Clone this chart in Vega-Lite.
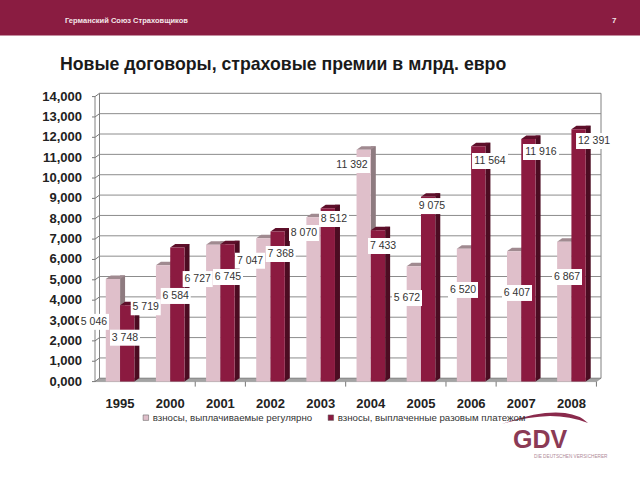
{"$schema":"https://vega.github.io/schema/vega-lite/v6.json","width":501.5,"height":285,"autosize":"none","padding":{"left":95,"top":96.6,"right":43.5,"bottom":98.4},"background":"white","config":{"view":{"stroke":null},"font":"Liberation Sans"},
"data":{"values":[
{"year":"1995","kind":"взносы, выплачиваемые регулярно","value":5.046,"label":"5 046"},
{"year":"2000","kind":"взносы, выплачиваемые регулярно","value":5.719,"label":"5 719"},
{"year":"2001","kind":"взносы, выплачиваемые регулярно","value":6.727,"label":"6 727"},
{"year":"2002","kind":"взносы, выплачиваемые регулярно","value":7.047,"label":"7 047"},
{"year":"2003","kind":"взносы, выплачиваемые регулярно","value":8.07,"label":"8 070"},
{"year":"2004","kind":"взносы, выплачиваемые регулярно","value":11.392,"label":"11 392"},
{"year":"2005","kind":"взносы, выплачиваемые регулярно","value":5.672,"label":"5 672"},
{"year":"2006","kind":"взносы, выплачиваемые регулярно","value":6.52,"label":"6 520"},
{"year":"2007","kind":"взносы, выплачиваемые регулярно","value":6.407,"label":"6 407"},
{"year":"2008","kind":"взносы, выплачиваемые регулярно","value":6.867,"label":"6 867"},
{"year":"1995","kind":"взносы, выплаченные разовым платежом","value":3.748,"label":"3 748"},
{"year":"2000","kind":"взносы, выплаченные разовым платежом","value":6.584,"label":"6 584"},
{"year":"2001","kind":"взносы, выплаченные разовым платежом","value":6.745,"label":"6 745"},
{"year":"2002","kind":"взносы, выплаченные разовым платежом","value":7.368,"label":"7 368"},
{"year":"2003","kind":"взносы, выплаченные разовым платежом","value":8.512,"label":"8 512"},
{"year":"2004","kind":"взносы, выплаченные разовым платежом","value":7.433,"label":"7 433"},
{"year":"2005","kind":"взносы, выплаченные разовым платежом","value":9.075,"label":"9 075"},
{"year":"2006","kind":"взносы, выплаченные разовым платежом","value":11.564,"label":"11 564"},
{"year":"2007","kind":"взносы, выплаченные разовым платежом","value":11.916,"label":"11 916"},
{"year":"2008","kind":"взносы, выплаченные разовым платежом","value":12.391,"label":"12 391"}
]},
"layer":[
{"data":{"values":[{}]},"mark":{"type":"rect","fill":"#8a1c41"},"encoding":{"x":{"value":-95},"x2":{"value":545},"y":{"value":-96.6},"y2":{"value":-61}}},
{"data":{"values":[{}]},"mark":{"type":"text","align":"left","baseline":"alphabetic","fontSize":7.5,"fontWeight":"bold","color":"#f4e6ea"},"encoding":{"x":{"value":-30},"y":{"value":-74},"text":{"value":"Германский Союз Страховщиков"}}},
{"data":{"values":[{}]},"mark":{"type":"text","align":"left","baseline":"alphabetic","fontSize":8,"fontWeight":"bold","color":"#f4e6ea"},"encoding":{"x":{"value":517},"y":{"value":-74},"text":{"value":"7"}}},
{"data":{"values":[{}]},"mark":{"type":"text","align":"left","baseline":"alphabetic","fontSize":17.7,"fontWeight":"bold","color":"#1a1a1a"},"encoding":{"x":{"value":-35},"y":{"value":-26.6},"text":{"value":"Новые договоры, страховые премии в млрд. евро"}}},
{"data":{"values":[{}]},"mark":{"type":"rect","fill":"white","stroke":"#808080","strokeWidth":1,"yOffset":-3.3,"y2Offset":-3.3},"encoding":{"x":{"value":4.5},"x2":{"value":506},"y":{"datum":14,"type":"quantitative","scale":{"domain":[0,14],"nice":false},"axis":{"title":null,"domain":false,"ticks":false,"grid":false,"labels":false}},"y2":{"datum":0}}},
{"data":{"values":[{"tick":1},{"tick":2},{"tick":3},{"tick":4},{"tick":5},{"tick":6},{"tick":7},{"tick":8},{"tick":9},{"tick":10},{"tick":11},{"tick":12},{"tick":13}]},"mark":{"type":"rule","stroke":"#8c8c8c","strokeWidth":1,"yOffset":-3.3},"encoding":{"x":{"value":4.5},"x2":{"value":506},"y":{"field":"tick","type":"quantitative"}}},
{"data":{"values":[{"tick":0,"name":"0,000"},{"tick":1,"name":"1,000"},{"tick":2,"name":"2,000"},{"tick":3,"name":"3,000"},{"tick":4,"name":"4,000"},{"tick":5,"name":"5,000"},{"tick":6,"name":"6,000"},{"tick":7,"name":"7,000"},{"tick":8,"name":"8,000"},{"tick":9,"name":"9,000"},{"tick":10,"name":"10,000"},{"tick":11,"name":"11,000"},{"tick":12,"name":"12,000"},{"tick":13,"name":"13,000"},{"tick":14,"name":"14,000"}]},"layer":[{"mark":{"type":"point","shape":"M-3 0 L0 0 L4.5 -3.3","size":4,"filled":false,"stroke":"#777777","strokeWidth":1,"opacity":1},"encoding":{"x":{"value":0},"y":{"field":"tick","type":"quantitative"}}},{"mark":{"type":"text","align":"right","baseline":"middle","fontSize":13,"fontWeight":"bold","color":"#222222"},"encoding":{"x":{"value":-13},"y":{"field":"tick","type":"quantitative"},"text":{"field":"name"}}}]},
{"data":{"values":[{}]},"mark":{"type":"rule","stroke":"#808080","strokeWidth":1},"encoding":{"x":{"value":0},"y":{"datum":14,"type":"quantitative"},"y2":{"datum":0}}},
{"data":{"values":[{}]},"mark":{"type":"point","shape":"M0 0 L4.5 -3.3 L506 -3.3 L501.5 0 Z","size":4,"filled":true,"fill":"#a3a3a3","stroke":"#777777","strokeWidth":0.5,"opacity":1},"encoding":{"x":{"value":0},"y":{"datum":0,"type":"quantitative"}}},
{"transform":[{"filter":"datum.kind=='взносы, выплачиваемые регулярно'"}],"mark":{"type":"bar","size":5,"fill":"#8e7b80","xOffset":2.5,"yOffset":-3.5,"y2Offset":-3.5},"encoding":{
"x":{"field":"year","type":"nominal","scale":{"domain":["1995","2000","2001","2002","2003","2004","2005","2006","2007","2008"],"paddingInner":0.43,"paddingOuter":0.215},"axis":{"title":null,"domain":false,"ticks":false,"bandPosition":0.5,"labelAngle":0,"labelPadding":15.5,"labelFontSize":13,"labelFontWeight":"bold","labelColor":"#222222","labelFont":"Liberation Sans"}},
"y":{"field":"value","type":"quantitative"}}},
{"transform":[{"filter":"indexof(['2000','2001','2003','2005','2006','2008'],datum.year)>=0 && datum.kind=='взносы, выплачиваемые регулярно'"}],"mark":{"type":"point","shape":"M25 0 L25 5","size":4,"filled":false,"stroke":"#777777","strokeWidth":1,"opacity":1},"encoding":{"x":{"field":"year","type":"nominal"},"y":{"datum":0,"type":"quantitative"}}},
{"transform":[{"filter":"datum.kind=='взносы, выплаченные разовым платежом'"}],"mark":{"type":"bar","size":5,"fill":"#4c0c22","xOffset":16.8,"yOffset":-3.5,"y2Offset":-3.5},"encoding":{"x":{"field":"year","type":"nominal"},"y":{"field":"value","type":"quantitative"}}},
{"transform":[{"filter":"datum.kind=='взносы, выплаченные разовым платежом'"}],"mark":{"type":"point","shape":"M14.3 0 L19.3 -3.5 L14.3 -3.5 Z","size":4,"filled":true,"fill":"#4c0c22","strokeWidth":0,"opacity":1},"encoding":{"x":{"field":"year","type":"nominal"},"y":{"datum":0,"type":"quantitative"}}},
{"transform":[{"filter":"datum.kind=='взносы, выплачиваемые регулярно'"}],"mark":{"type":"point","shape":"M-14.3 0 L-9.3 -3.5 L5 -3.5 L0 0 Z","size":4,"filled":true,"fill":"#a08a90","strokeWidth":0,"opacity":1},"encoding":{"x":{"field":"year","type":"nominal"},"y":{"field":"value","type":"quantitative"}}},
{"transform":[{"filter":"datum.kind=='взносы, выплаченные разовым платежом'"}],"mark":{"type":"point","shape":"M0 0 L5 -3.5 L19.3 -3.5 L14.3 0 Z","size":4,"filled":true,"fill":"#5e0f2a","strokeWidth":0,"opacity":1},"encoding":{"x":{"field":"year","type":"nominal"},"y":{"field":"value","type":"quantitative"}}},
{"mark":{"type":"bar"},"encoding":{"x":{"field":"year","type":"nominal"},"xOffset":{"field":"kind","type":"nominal","scale":{"domain":["взносы, выплачиваемые регулярно","взносы, выплаченные разовым платежом"]}},"y":{"field":"value","type":"quantitative"},
"color":{"field":"kind","type":"nominal","scale":{"domain":["взносы, выплачиваемые регулярно","взносы, выплаченные разовым платежом"],"range":["#dfbfca","#8b1a40"]},"legend":{"orient":"none","legendX":46,"legendY":316,"direction":"horizontal","title":null,"symbolType":"square","symbolSize":30,"symbolStrokeColor":"#555555","symbolStrokeWidth":0.5,"labelFont":"Liberation Sans","labelFontSize":9.7,"labelColor":"#333333","columnPadding":13,"labelOffset":2,"labelLimit":300}}}},
{"transform":[{"filter":"datum.label=='5 046'"}],"layer":[{"mark":{"type":"point","shape":"M-15 -8 H15 V8 H-15 Z","size":4,"filled":true,"fill":"white","strokeWidth":0,"opacity":1,"xOffset":-26.1,"yOffset":43}},{"mark":{"type":"text","fontSize":10.5,"color":"#333333","xOffset":-26.1,"yOffset":43},"encoding":{"text":{"field":"label"}}}],"encoding":{"x":{"field":"year","type":"nominal"},"y":{"field":"value","type":"quantitative"}}},
{"transform":[{"filter":"datum.label=='3 748'"}],"layer":[{"mark":{"type":"point","shape":"M-15 -8 H15 V8 H-15 Z","size":4,"filled":true,"fill":"white","strokeWidth":0,"opacity":1,"xOffset":4.9,"yOffset":32.4}},{"mark":{"type":"text","fontSize":10.5,"color":"#333333","xOffset":4.9,"yOffset":32.4},"encoding":{"text":{"field":"label"}}}],"encoding":{"x":{"field":"year","type":"nominal"},"y":{"field":"value","type":"quantitative"}}},
{"transform":[{"filter":"datum.label=='5 719'"}],"layer":[{"mark":{"type":"point","shape":"M-15 -8 H15 V8 H-15 Z","size":4,"filled":true,"fill":"white","strokeWidth":0,"opacity":1,"xOffset":-24.5,"yOffset":42.1}},{"mark":{"type":"text","fontSize":10.5,"color":"#333333","xOffset":-24.5,"yOffset":42.1},"encoding":{"text":{"field":"label"}}}],"encoding":{"x":{"field":"year","type":"nominal"},"y":{"field":"value","type":"quantitative"}}},
{"transform":[{"filter":"datum.label=='6 584'"}],"layer":[{"mark":{"type":"point","shape":"M-15 -8 H15 V8 H-15 Z","size":4,"filled":true,"fill":"white","strokeWidth":0,"opacity":1,"xOffset":5.5,"yOffset":48.4}},{"mark":{"type":"text","fontSize":10.5,"color":"#333333","xOffset":5.5,"yOffset":48.4},"encoding":{"text":{"field":"label"}}}],"encoding":{"x":{"field":"year","type":"nominal"},"y":{"field":"value","type":"quantitative"}}},
{"transform":[{"filter":"datum.label=='6 727'"}],"layer":[{"mark":{"type":"point","shape":"M-15 -8 H15 V8 H-15 Z","size":4,"filled":true,"fill":"white","strokeWidth":0,"opacity":1,"xOffset":-22.7,"yOffset":34.4}},{"mark":{"type":"text","fontSize":10.5,"color":"#333333","xOffset":-22.7,"yOffset":34.4},"encoding":{"text":{"field":"label"}}}],"encoding":{"x":{"field":"year","type":"nominal"},"y":{"field":"value","type":"quantitative"}}},
{"transform":[{"filter":"datum.label=='6 745'"}],"layer":[{"mark":{"type":"point","shape":"M-15 -8 H15 V8 H-15 Z","size":4,"filled":true,"fill":"white","strokeWidth":0,"opacity":1,"xOffset":7.6,"yOffset":32.7}},{"mark":{"type":"text","fontSize":10.5,"color":"#333333","xOffset":7.6,"yOffset":32.7},"encoding":{"text":{"field":"label"}}}],"encoding":{"x":{"field":"year","type":"nominal"},"y":{"field":"value","type":"quantitative"}}},
{"transform":[{"filter":"datum.label=='7 047'"}],"layer":[{"mark":{"type":"point","shape":"M-15 -8 H15 V8 H-15 Z","size":4,"filled":true,"fill":"white","strokeWidth":0,"opacity":1,"xOffset":-20.5,"yOffset":22.6}},{"mark":{"type":"text","fontSize":10.5,"color":"#333333","xOffset":-20.5,"yOffset":22.6},"encoding":{"text":{"field":"label"}}}],"encoding":{"x":{"field":"year","type":"nominal"},"y":{"field":"value","type":"quantitative"}}},
{"transform":[{"filter":"datum.label=='7 368'"}],"layer":[{"mark":{"type":"point","shape":"M-15 -8 H15 V8 H-15 Z","size":4,"filled":true,"fill":"white","strokeWidth":0,"opacity":1,"xOffset":10.2,"yOffset":22.4}},{"mark":{"type":"text","fontSize":10.5,"color":"#333333","xOffset":10.2,"yOffset":22.4},"encoding":{"text":{"field":"label"}}}],"encoding":{"x":{"field":"year","type":"nominal"},"y":{"field":"value","type":"quantitative"}}},
{"transform":[{"filter":"datum.label=='8 070'"}],"layer":[{"mark":{"type":"point","shape":"M-15 -8 H15 V8 H-15 Z","size":4,"filled":true,"fill":"white","strokeWidth":0,"opacity":1,"xOffset":-16.7,"yOffset":15.7}},{"mark":{"type":"text","fontSize":10.5,"color":"#333333","xOffset":-16.7,"yOffset":15.7},"encoding":{"text":{"field":"label"}}}],"encoding":{"x":{"field":"year","type":"nominal"},"y":{"field":"value","type":"quantitative"}}},
{"transform":[{"filter":"datum.label=='8 512'"}],"layer":[{"mark":{"type":"point","shape":"M-15 -8 H15 V8 H-15 Z","size":4,"filled":true,"fill":"white","strokeWidth":0,"opacity":1,"xOffset":13.3,"yOffset":10.7}},{"mark":{"type":"text","fontSize":10.5,"color":"#333333","xOffset":13.3,"yOffset":10.7},"encoding":{"text":{"field":"label"}}}],"encoding":{"x":{"field":"year","type":"nominal"},"y":{"field":"value","type":"quantitative"}}},
{"transform":[{"filter":"datum.label=='11 392'"}],"layer":[{"mark":{"type":"point","shape":"M-18 -8 H18 V8 H-18 Z","size":4,"filled":true,"fill":"white","strokeWidth":0,"opacity":1,"xOffset":-18.8,"yOffset":15.3}},{"mark":{"type":"text","fontSize":10.5,"color":"#333333","xOffset":-18.8,"yOffset":15.3},"encoding":{"text":{"field":"label"}}}],"encoding":{"x":{"field":"year","type":"nominal"},"y":{"field":"value","type":"quantitative"}}},
{"transform":[{"filter":"datum.label=='7 433'"}],"layer":[{"mark":{"type":"point","shape":"M-15 -8 H15 V8 H-15 Z","size":4,"filled":true,"fill":"white","strokeWidth":0,"opacity":1,"xOffset":12.2,"yOffset":15.7}},{"mark":{"type":"text","fontSize":10.5,"color":"#333333","xOffset":12.2,"yOffset":15.7},"encoding":{"text":{"field":"label"}}}],"encoding":{"x":{"field":"year","type":"nominal"},"y":{"field":"value","type":"quantitative"}}},
{"transform":[{"filter":"datum.label=='5 672'"}],"layer":[{"mark":{"type":"point","shape":"M-15 -8 H15 V8 H-15 Z","size":4,"filled":true,"fill":"white","strokeWidth":0,"opacity":1,"xOffset":-14,"yOffset":31.9}},{"mark":{"type":"text","fontSize":10.5,"color":"#333333","xOffset":-14,"yOffset":31.9},"encoding":{"text":{"field":"label"}}}],"encoding":{"x":{"field":"year","type":"nominal"},"y":{"field":"value","type":"quantitative"}}},
{"transform":[{"filter":"datum.label=='9 075'"}],"layer":[{"mark":{"type":"point","shape":"M-15 -8 H15 V8 H-15 Z","size":4,"filled":true,"fill":"white","strokeWidth":0,"opacity":1,"xOffset":11,"yOffset":9.2}},{"mark":{"type":"text","fontSize":10.5,"color":"#333333","xOffset":11,"yOffset":9.2},"encoding":{"text":{"field":"label"}}}],"encoding":{"x":{"field":"year","type":"nominal"},"y":{"field":"value","type":"quantitative"}}},
{"transform":[{"filter":"datum.label=='6 520'"}],"layer":[{"mark":{"type":"point","shape":"M-15 -8 H15 V8 H-15 Z","size":4,"filled":true,"fill":"white","strokeWidth":0,"opacity":1,"xOffset":-8.1,"yOffset":41.1}},{"mark":{"type":"text","fontSize":10.5,"color":"#333333","xOffset":-8.1,"yOffset":41.1},"encoding":{"text":{"field":"label"}}}],"encoding":{"x":{"field":"year","type":"nominal"},"y":{"field":"value","type":"quantitative"}}},
{"transform":[{"filter":"datum.label=='11 564'"}],"layer":[{"mark":{"type":"point","shape":"M-18 -8 H18 V8 H-18 Z","size":4,"filled":true,"fill":"white","strokeWidth":0,"opacity":1,"xOffset":18.9,"yOffset":14.8}},{"mark":{"type":"text","fontSize":10.5,"color":"#333333","xOffset":18.9,"yOffset":14.8},"encoding":{"text":{"field":"label"}}}],"encoding":{"x":{"field":"year","type":"nominal"},"y":{"field":"value","type":"quantitative"}}},
{"transform":[{"filter":"datum.label=='6 407'"}],"layer":[{"mark":{"type":"point","shape":"M-15 -8 H15 V8 H-15 Z","size":4,"filled":true,"fill":"white","strokeWidth":0,"opacity":1,"xOffset":-4.3,"yOffset":41.8}},{"mark":{"type":"text","fontSize":10.5,"color":"#333333","xOffset":-4.3,"yOffset":41.8},"encoding":{"text":{"field":"label"}}}],"encoding":{"x":{"field":"year","type":"nominal"},"y":{"field":"value","type":"quantitative"}}},
{"transform":[{"filter":"datum.label=='11 916'"}],"layer":[{"mark":{"type":"point","shape":"M-18 -8 H18 V8 H-18 Z","size":4,"filled":true,"fill":"white","strokeWidth":0,"opacity":1,"xOffset":19.7,"yOffset":13}},{"mark":{"type":"text","fontSize":10.5,"color":"#333333","xOffset":19.7,"yOffset":13},"encoding":{"text":{"field":"label"}}}],"encoding":{"x":{"field":"year","type":"nominal"},"y":{"field":"value","type":"quantitative"}}},
{"transform":[{"filter":"datum.label=='6 867'"}],"layer":[{"mark":{"type":"point","shape":"M-15 -8 H15 V8 H-15 Z","size":4,"filled":true,"fill":"white","strokeWidth":0,"opacity":1,"xOffset":-4.4,"yOffset":35.2}},{"mark":{"type":"text","fontSize":10.5,"color":"#333333","xOffset":-4.4,"yOffset":35.2},"encoding":{"text":{"field":"label"}}}],"encoding":{"x":{"field":"year","type":"nominal"},"y":{"field":"value","type":"quantitative"}}},
{"transform":[{"filter":"datum.label=='12 391'"}],"layer":[{"mark":{"type":"point","shape":"M-18 -8 H18 V8 H-18 Z","size":4,"filled":true,"fill":"white","strokeWidth":0,"opacity":1,"xOffset":22.6,"yOffset":11.7}},{"mark":{"type":"text","fontSize":10.5,"color":"#333333","xOffset":22.6,"yOffset":11.7},"encoding":{"text":{"field":"label"}}}],"encoding":{"x":{"field":"year","type":"nominal"},"y":{"field":"value","type":"quantitative"}}},
{"data":{"values":[{}]},"mark":{"type":"point","shape":"M-43 4 Q-5 -10 20 -7 Q35 -5 43 3 Q25 -4 5 -4 Q-20 -3 -43 4 Z","size":4,"filled":true,"fill":"#8a2a4c","strokeWidth":0,"opacity":1},"encoding":{"x":{"value":450},"y":{"value":323.4}}},
{"data":{"values":[{}]},"mark":{"type":"text","align":"left","baseline":"alphabetic","fontSize":25,"fontWeight":"bold","color":"#8b3a55"},"encoding":{"x":{"value":418},"y":{"value":351},"text":{"value":"GDV"}}},
{"data":{"values":[{}]},"mark":{"type":"text","align":"left","baseline":"alphabetic","fontSize":4.7,"color":"#b08a98"},"encoding":{"x":{"value":439},"y":{"value":361},"text":{"value":"DIE DEUTSCHEN VERSICHERER"}}}
]}
